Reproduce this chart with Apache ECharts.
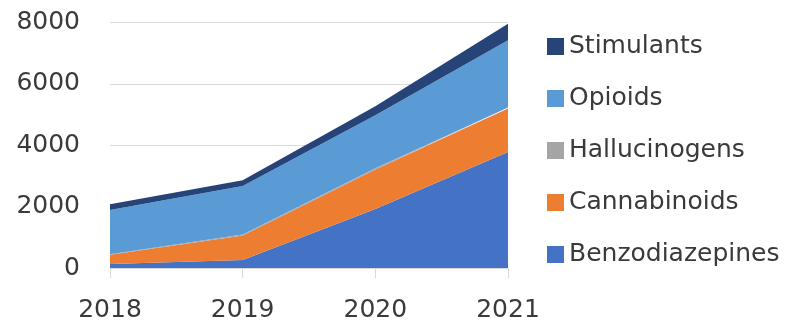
<!DOCTYPE html>
<html>
<head>
<meta charset="utf-8">
<script src="https://cdn.jsdelivr.net/npm/echarts@6/dist/echarts.min.js"></script>
<style>
  html, body { margin: 0; padding: 0; background: #fff; }
  #chart { width: 800px; height: 327px; }
</style>
</head>
<body>
<div id="chart"></div>
<script>
// data
var years = ["2018", "2019", "2020", "2021"];
var benzodiazepines = [130, 260, 1920, 3780];
var cannabinoids = [300, 800, 1290, 1420];
var hallucinogens = [20, 30, 40, 30];
var opioids = [1440, 1580, 1730, 2190];
var stimulants = [190, 190, 290, 540];

var font = "DejaVu Sans";
var textColor = "#3a3a3a";

function areaSeries(name, data, color) {
  return {
    name: name,
    type: "line",
    stack: "total",
    data: data,
    symbol: "none",
    lineStyle: { width: 0 },
    areaStyle: { color: color, opacity: 1 },
    itemStyle: { color: color }
  };
}

var chart = echarts.init(document.getElementById("chart"));
chart.setOption({
  animation: false,
  grid: { left: 110, right: 292, top: 22.5, bottom: 59 },
  legend: {
    orient: "vertical",
    left: 542,
    top: 29,
    itemWidth: 17,
    itemHeight: 17,
    itemGap: 27,
    icon: "rect",
    textStyle: { fontFamily: font, fontSize: 25, color: textColor, padding: [0, 0, 0, 0] },
    data: ["Stimulants", "Opioids", "Hallucinogens", "Cannabinoids", "Benzodiazepines"]
  },
  xAxis: {
    type: "category",
    boundaryGap: false,
    data: years,
    axisLine: { lineStyle: { color: "#d9d9d9" } },
    axisTick: { show: true, length: 10, lineStyle: { color: "#d9d9d9" } },
    axisLabel: { fontFamily: font, fontSize: 25, color: textColor, margin: 30 }
  },
  yAxis: {
    type: "value",
    min: 0,
    max: 8000,
    interval: 2000,
    axisLine: { show: false },
    axisTick: { show: false },
    splitLine: { lineStyle: { color: "#d9d9d9", width: 1 } },
    axisLabel: {
      fontFamily: font, fontSize: 25, color: textColor, margin: 30,
      formatter: function (v) { return String(v); }
    }
  },
  series: [
    areaSeries("Benzodiazepines", benzodiazepines, "#4472C4"),
    areaSeries("Cannabinoids", cannabinoids, "#ED7D31"),
    areaSeries("Hallucinogens", hallucinogens, "#A5A5A5"),
    areaSeries("Opioids", opioids, "#5B9BD5"),
    areaSeries("Stimulants", stimulants, "#264478")
  ]
});
</script>
</body>
</html>
